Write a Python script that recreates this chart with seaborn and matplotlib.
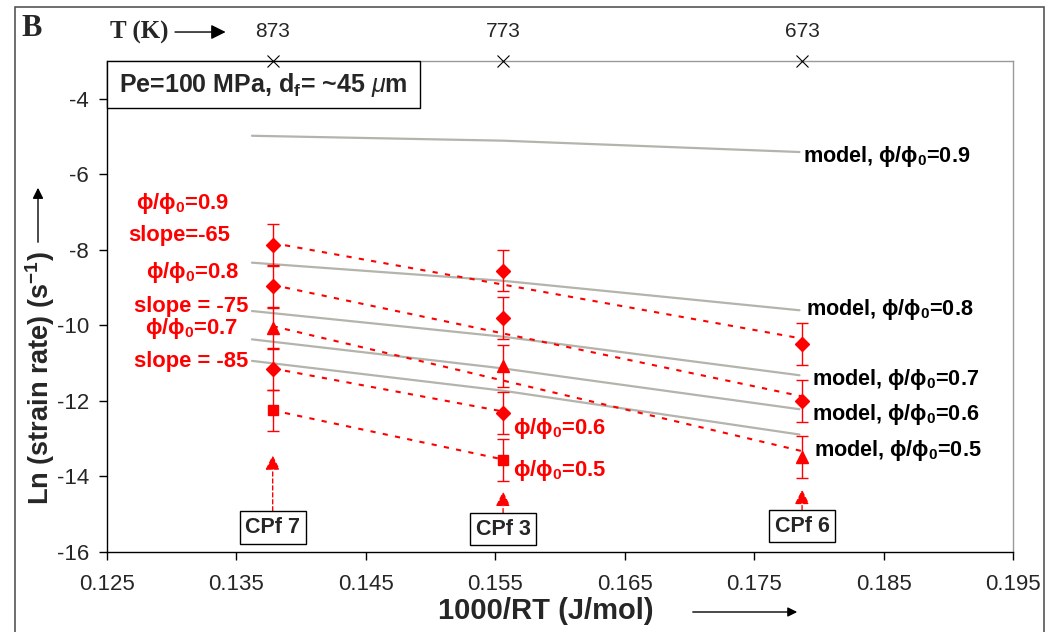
import pandas as pd
import seaborn as sns
import matplotlib.pyplot as plt
from matplotlib.patches import Rectangle

# --- data ---
temps_k = ["873", "773", "673"]
inv_rt = [0.1378, 0.1556, 0.1787]          # 1000/RT of the three tests

# experimental points (ln strain rate) per phi/phi0
exp_09 = [-7.87, -8.55, -10.50]
exp_08 = [-8.96, -9.81, -12.00]
exp_07 = [-10.08, -11.08, -13.48]
exp_06 = [-11.16, -12.32]
exp_05 = [-12.25, -13.57]
exp_err = 0.55

# dashed fit lines: start / end values
fit_09 = [-7.82, -10.35]
fit_08 = [-8.93, -11.88]
fit_07 = [-10.02, -13.33]
fit_06 = [-11.14, -12.28]
fit_05 = [-12.25, -13.55]

# model curves
model_x = [0.1362, 0.1556, 0.1785]
model_09 = [-4.98, -5.11, -5.41]
model_08 = [-8.34, -8.82, -9.60]
model_07 = [-9.62, -10.30, -11.32]
model_06 = [-10.37, -11.14, -12.22]
model_05 = [-10.94, -11.73, -12.89]

cpf_labels = ["CPf 7", "CPf 3", "CPf 6"]
cpf_tip = [-13.44, -14.40, -14.35]
cpf_box = [-15.35, -15.40, -15.32]

x_ticks = [0.125, 0.135, 0.145, 0.155, 0.165, 0.175, 0.185, 0.195]
y_ticks = [-16, -14, -12, -10, -8, -6, -4]

sns.set_theme(style="white")
plt.rcParams['font.family'] = ['Liberation Sans', 'DejaVu Sans']
plt.rcParams['mathtext.fontset'] = 'custom'
plt.rcParams['mathtext.rm'] = 'Liberation Sans'
plt.rcParams['mathtext.bf'] = 'Liberation Sans:bold'
plt.rcParams['mathtext.it'] = 'Liberation Sans:italic'

fig, ax = plt.subplots(figsize=(10.46, 6.32), dpi=100)
fig.subplots_adjust(left=0.1023, right=0.9685, top=0.9035, bottom=0.1266)

# model curves (grey)
model_df = pd.DataFrame({
    "x": model_x * 5,
    "y": model_09 + model_08 + model_07 + model_06 + model_05,
    "phi": ["0.9"] * 3 + ["0.8"] * 3 + ["0.7"] * 3 + ["0.6"] * 3 + ["0.5"] * 3,
})
sns.lineplot(data=model_df, x="x", y="y", hue="phi", palette=["#b4b4ac"] * 5,
             linewidth=1.6, legend=False, ax=ax, sort=False)

# dashed red fit lines
fits = [(fit_09, 3), (fit_08, 3), (fit_07, 3), (fit_06, 2), (fit_05, 2)]
for vals, n in fits:
    xs = [inv_rt[0], inv_rt[n - 1]]
    sns.lineplot(x=xs, y=vals, color="red", linewidth=1.5,
                 linestyle=(0, (2.5, 3.5)), ax=ax, sort=False)

# experimental points with error bars
points = [(exp_09, "D", 7), (exp_08, "D", 7), (exp_07, "^", 8.5),
          (exp_06, "D", 7), (exp_05, "s", 6.5)]
for vals, mk, ms in points:
    ax.errorbar(inv_rt[:len(vals)], vals, yerr=exp_err, fmt=mk, ms=ms,
                color="red", ecolor="red", elinewidth=1, capsize=4.5,
                capthick=1, zorder=4)

# temperature crosses on the top axis
ax.plot(inv_rt, [-3] * 3, "x", color="black", ms=9, mew=0.8, clip_on=False, zorder=7)
for x, t in zip(inv_rt, temps_k):
    ax.text(x, 1.061, t, transform=ax.get_xaxis_transform(), ha="center",
            va="center", fontsize=15)

ax.text(0.036, 1.059, "T (K)", transform=ax.transAxes, ha="center", va="center",
        fontsize=18, fontweight="bold", family="Liberation Serif")
ax.annotate("", xy=(0.134, 1.059), xytext=(0.072, 1.059), xycoords="axes fraction",
            arrowprops=dict(arrowstyle="-|>", color="black", lw=1, mutation_scale=22))

# CPf boxes with red arrows
for x, lab, tip, yb in zip(inv_rt, cpf_labels, cpf_tip, cpf_box):
    ax.annotate(lab, xy=(x, tip), xytext=(x, yb), ha="center", va="center",
                fontsize=15.5, fontweight="bold",
                bbox=dict(boxstyle="square,pad=0.26", fc="white", ec="black", lw=1),
                arrowprops=dict(arrowstyle="-|>", color="red", lw=1, ls=(0, (3, 2)),
                                mutation_scale=22, shrinkA=0, shrinkB=0))

# red labels
red_labels = [
    (0.1308, -6.78, r"ϕ/ϕ$_\mathbf{0}$=0.9", "center"),
    (0.1306, -7.63, "slope=-65", "center"),
    (0.1316, -8.61, r"ϕ/ϕ$_\mathbf{0}$=0.8", "center"),
    (0.1315, -9.49, "slope = -75", "center"),
    (0.1315, -10.07, r"ϕ/ϕ$_\mathbf{0}$=0.7", "center"),
    (0.1315, -10.95, "slope = -85", "center"),
    (0.1564, -12.72, r"ϕ/ϕ$_\mathbf{0}$=0.6", "left"),
    (0.1564, -13.84, r"ϕ/ϕ$_\mathbf{0}$=0.5", "left"),
]
for x, y, s, ha in red_labels:
    ax.text(x, y, s, color="red", fontsize=15.8, fontweight="bold", ha=ha, va="center")

# model labels
model_labels = [
    (0.17877, -5.54, "0.9"),
    (0.1790, -9.59, "0.8"),
    (0.17946, -11.42, "0.7"),
    (0.17946, -12.35, "0.6"),
    (0.17962, -13.31, "0.5"),
]
for x, y, phi in model_labels:
    ax.text(x, y, r"model, ϕ/ϕ$_\mathbf{0}$=" + phi, color="black", fontsize=15.6,
            fontweight="bold", ha="left", va="center")

# condition box, sitting in the top-left corner of the axes
ax.add_patch(Rectangle((0, 1 - 47 / 491), 313 / 906, 47 / 491, transform=ax.transAxes,
                       fc="white", ec="black", lw=1, clip_on=False, zorder=6))
ax.text(0.1727, 0.951, r"Pe=100 MPa, d$_\mathbf{f}$= ~45 $\mu$m", transform=ax.transAxes,
        ha="center", va="center", fontsize=18, fontweight="bold", zorder=7)

# axes
ax.set_xlim(0.125, 0.195)
ax.set_ylim(-16, -3)
ax.set_xticks(x_ticks)
ax.set_xticklabels([f"{v:.3f}" for v in x_ticks], fontsize=16)
ax.set_yticks(y_ticks)
ax.set_yticklabels([str(v) for v in y_ticks], fontsize=16)
ax.tick_params(axis="both", direction="out", length=6, width=1, color="black",
               bottom=True, left=True)
ax.tick_params(axis="x", pad=10)
ax.tick_params(axis="y", pad=7)
ax.set_xlabel("")
ax.set_ylabel("")
for side in ["left", "bottom"]:
    ax.spines[side].set_color("black")
    ax.spines[side].set_linewidth(1)
for side in ["top", "right"]:
    ax.spines[side].set_color("#999999")
    ax.spines[side].set_linewidth(1)

fig.text(0.522, 0.033, "1000/RT (J/mol)", ha="center", va="center",
         fontsize=21, fontweight="bold")
ax.annotate("", xy=(800 / 1046, 1 - 612 / 632), xytext=(690 / 1046, 1 - 612 / 632),
            xycoords="figure fraction",
            arrowprops=dict(arrowstyle="-|>", color="black", lw=1, mutation_scale=14))

fig.text(40 / 1046, 1 - 378 / 632, r"Ln (strain rate) (s$^\mathbf{-1}$)", rotation=90,
         ha="center", va="center", fontsize=19.5, fontweight="bold")
ax.annotate("", xy=(38 / 1046, 1 - 185 / 632), xytext=(38 / 1046, 1 - 245 / 632),
            xycoords="figure fraction",
            arrowprops=dict(arrowstyle="-|>", color="black", lw=1, mutation_scale=16))

fig.text(32 / 1046, 1 - 29 / 632, "B", ha="center", va="center", fontsize=22,
         fontweight="bold", family="Liberation Serif")

# outer panel frame
fig.patches.append(Rectangle((15 / 1046, -0.01), 1029 / 1046, 1.01 - 7 / 632,
                             transform=fig.transFigure, fill=False, ec="#555555", lw=1.2))

fig.savefig("out.png", dpi=100)
